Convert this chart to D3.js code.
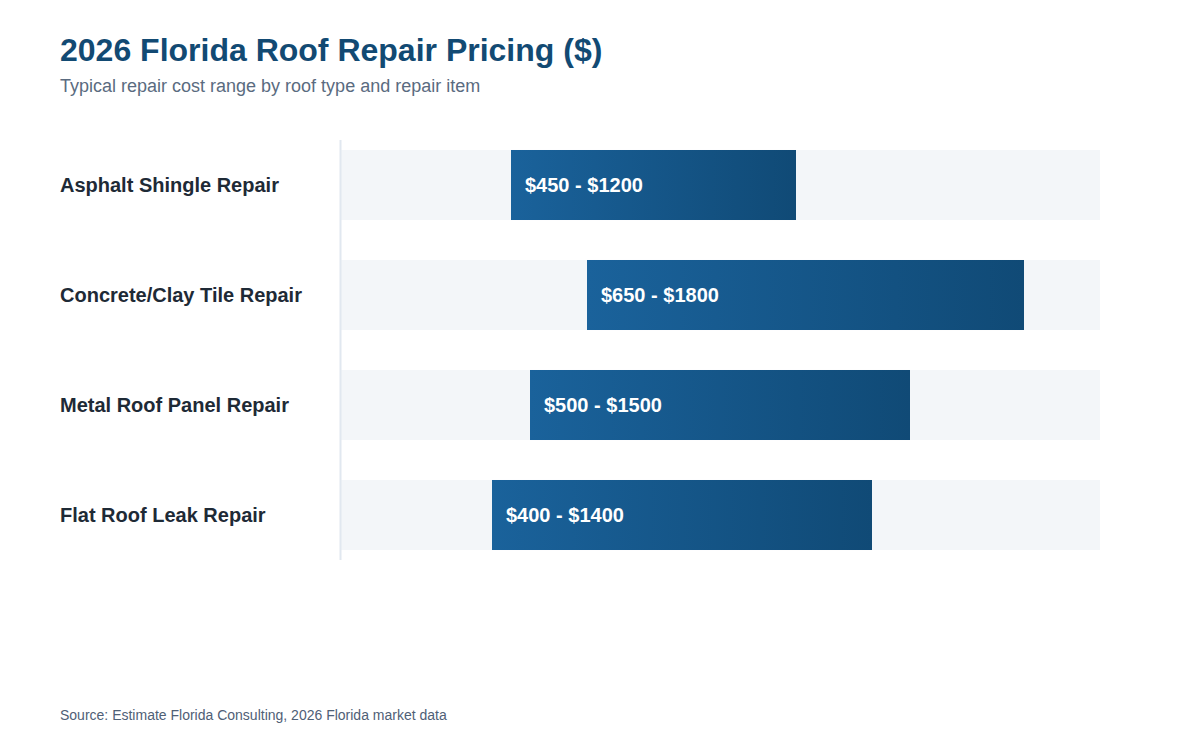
<!DOCTYPE html>
<html lang="en">
<head>
<meta charset="UTF-8">
<title>2026 Florida Roof Repair Pricing</title>
<script src="https://d3js.org/d3.v7.min.js"></script>
<style>
  body { margin: 0; background: #fff; font-family: "Liberation Sans", Arial, Helvetica, sans-serif; }
</style>
</head>
<body>
<svg id="chart" width="1200" height="750"></svg>
<script>
// data
const categories = ["Asphalt Shingle Repair", "Concrete/Clay Tile Repair", "Metal Roof Panel Repair", "Flat Roof Leak Repair"];
const lowCost = [450, 650, 500, 400];
const highCost = [1200, 1800, 1500, 1400];
const maxCost = 2000;

const width = 1200, height = 750;
const svg = d3.select("#chart");

// gradient for range bars
const grad = svg.append("defs").append("linearGradient")
    .attr("id", "barGrad")
    .attr("x1", "0%").attr("x2", "100%").attr("y1", "0%").attr("y2", "0%");
grad.append("stop").attr("offset", "0%").attr("stop-color", "#1a629b");
grad.append("stop").attr("offset", "100%").attr("stop-color", "#104a76");

// title block
svg.append("text")
    .attr("x", 60).attr("y", 61)
    .attr("font-size", 32).attr("font-weight", "bold")
    .attr("fill", "#124a73")
    .text("2026 Florida Roof Repair Pricing ($)");

svg.append("text")
    .attr("x", 60).attr("y", 92)
    .attr("font-size", 18)
    .attr("fill", "#5a6b80")
    .text("Typical repair cost range by roof type and repair item");

// scales
const x = d3.scaleLinear().domain([0, maxCost]).range([340, 1100]);
const y = d3.scaleBand().domain(categories).range([130, 570]).paddingInner(0.3636).paddingOuter(0.1818);

const rows = categories.map((c, i) => ({ name: c, lo: lowCost[i], hi: highCost[i] }));

const row = svg.selectAll("g.row")
    .data(rows)
    .enter()
    .append("g")
    .attr("class", "row");

// track background
row.append("rect")
    .attr("x", x(0))
    .attr("y", d => y(d.name))
    .attr("width", x(maxCost) - x(0))
    .attr("height", y.bandwidth())
    .attr("fill", "#f3f6f9");

// range bar
row.append("rect")
    .attr("x", d => x(d.lo))
    .attr("y", d => y(d.name))
    .attr("width", d => x(d.hi) - x(d.lo))
    .attr("height", y.bandwidth())
    .attr("fill", "url(#barGrad)");

// range label
row.append("text")
    .attr("x", d => x(d.lo) + 14)
    .attr("y", d => y(d.name) + y.bandwidth() / 2)
    .attr("dy", "0.35em")
    .attr("font-size", 20).attr("font-weight", "bold")
    .attr("fill", "#fff")
    .text(d => `$${d.lo} - $${d.hi}`);

// category label
row.append("text")
    .attr("x", 60)
    .attr("y", d => y(d.name) + y.bandwidth() / 2)
    .attr("dy", "0.35em")
    .attr("font-size", 20).attr("font-weight", "bold")
    .attr("fill", "#1e2a36")
    .text(d => d.name);

// vertical axis line
svg.append("line")
    .attr("x1", 340.5).attr("x2", 340.5)
    .attr("y1", 140).attr("y2", 560)
    .attr("stroke", "#e1e8f0").attr("stroke-width", 2);

// source
svg.append("text")
    .attr("x", 60).attr("y", 720)
    .attr("font-size", 14)
    .attr("fill", "#4f6076")
    .text("Source: Estimate Florida Consulting, 2026 Florida market data");
</script>
</body>
</html>
